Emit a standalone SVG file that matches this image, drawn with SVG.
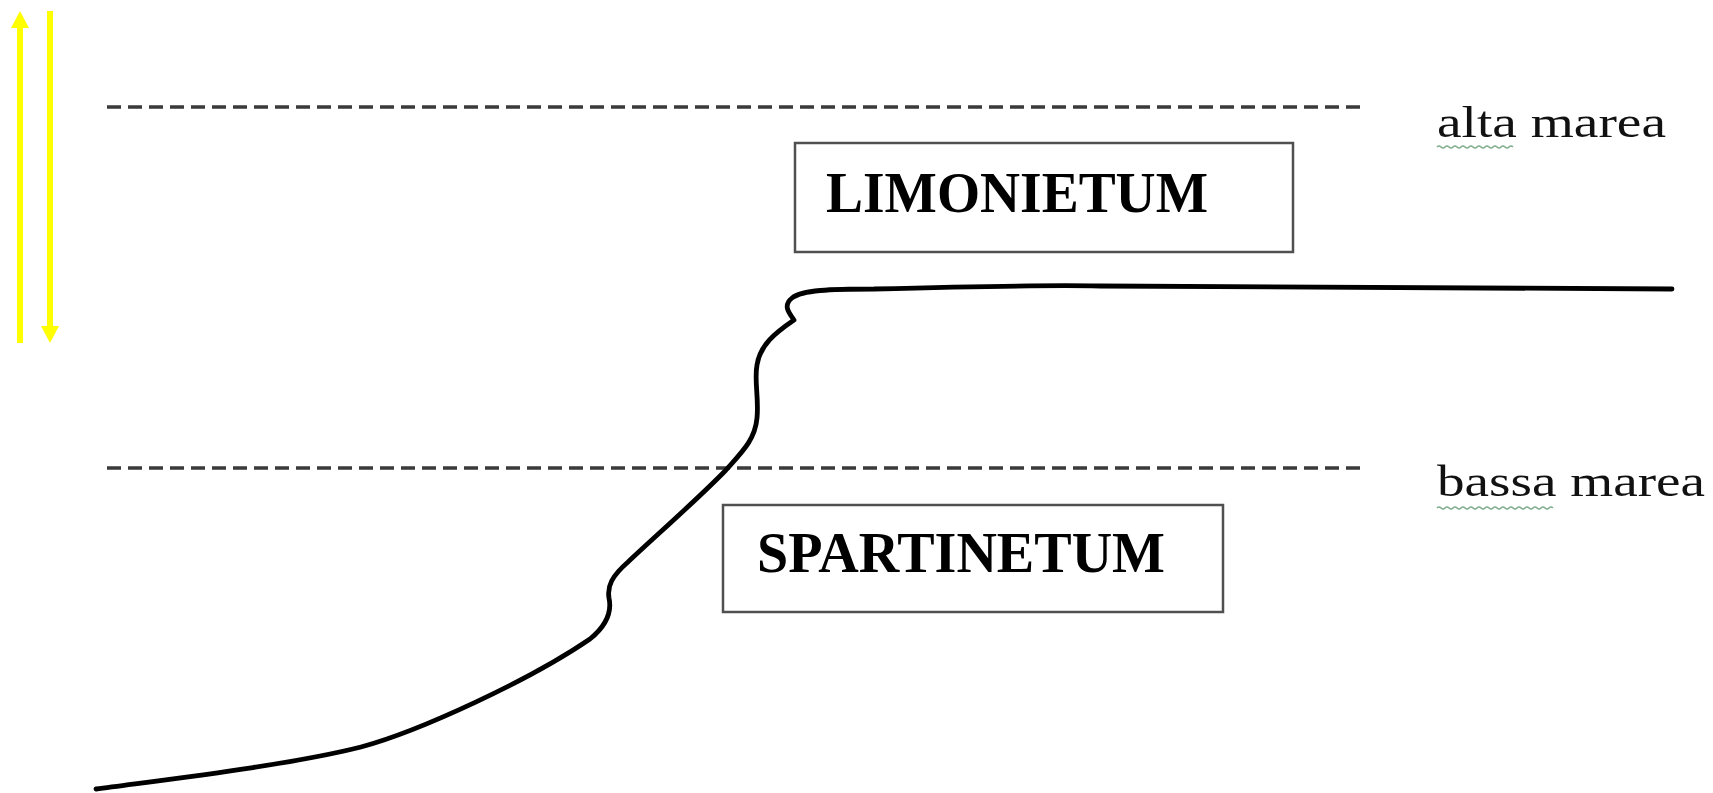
<svg xmlns="http://www.w3.org/2000/svg" width="1713" height="793" viewBox="0 0 1713 793">
  <style>
    .tide { stroke: #3a3a3a; stroke-width: 3.5; stroke-dasharray: 14 7; fill: none; }
    .box { fill: #ffffff; stroke: #505050; stroke-width: 2.5; }
    .zone { font-family: "Liberation Serif", "Times New Roman", serif; font-weight: bold; fill: #000; }
    .lbl { font-family: "Liberation Serif", "Times New Roman", serif; fill: #111; }
    .arrow { stroke: #ffff00; stroke-width: 6; fill: none; }
    .squig { stroke: #7fae8a; stroke-width: 1.6; fill: none; }
    .profile { stroke: #000; stroke-width: 4.8; fill: none; stroke-linecap: round; stroke-linejoin: round; }
  </style>
  <defs>
    <marker id="yhead" markerUnits="userSpaceOnUse" markerWidth="18" markerHeight="18" refX="0" refY="9" orient="auto">
      <path d="M0,0 L17,9 L0,18 Z" fill="#ffff00"/>
    </marker>
  </defs>
  <rect width="1713" height="793" fill="#ffffff"/>

  <g id="tide-lines">
    <line class="tide" x1="107" y1="107" x2="1363" y2="107"/>
    <line class="tide" x1="107" y1="468" x2="1363" y2="468"/>
  </g>

  <g id="profile">
    <path class="profile" d="M96,789 C170,779 290,765 361,747 C420,731 530,680 590,639 C606,626 612,612 609,598 C607,586 612,576 628,562 C660,532 700,497 726,470 C742,452 755,440 757,418 C759,398 754,380 757,365 C760,345 775,333 794,320 C790,314 782,306 792,298 C802,290 830,289 874,289 C950,287 1050,285 1100,286 L1672,289"/>
  </g>

  <g id="node-limonietum">
    <rect class="box" x="795" y="143" width="498" height="109"/>
    <text class="zone" x="826" y="212" font-size="57" textLength="382" lengthAdjust="spacingAndGlyphs">LIMONIETUM</text>
  </g>

  <g id="node-spartinetum">
    <rect class="box" x="723" y="505" width="500" height="107"/>
    <text class="zone" x="757" y="572" font-size="56" textLength="408" lengthAdjust="spacingAndGlyphs">SPARTINETUM</text>
  </g>

  <g id="label-alta">
    <text class="lbl" x="1437" y="137" font-size="45" textLength="229" lengthAdjust="spacingAndGlyphs">alta marea</text>
    <path class="squig" d="M1437,147 q2,-2 4,0 t4,0 t4,0 t4,0 t4,0 t4,0 t4,0 t4,0 t4,0 t4,0 t4,0 t4,0 t4,0 t4,0 t4,0 t4,0 t4,0 t4,0 t4,0"/>
  </g>

  <g id="label-bassa">
    <text class="lbl" x="1437" y="496" font-size="45" textLength="268" lengthAdjust="spacingAndGlyphs">bassa marea</text>
    <path class="squig" d="M1437,508 q2,-2 4,0 t4,0 t4,0 t4,0 t4,0 t4,0 t4,0 t4,0 t4,0 t4,0 t4,0 t4,0 t4,0 t4,0 t4,0 t4,0 t4,0 t4,0 t4,0 t4,0 t4,0 t4,0 t4,0 t4,0 t4,0 t4,0 t4,0 t4,0 t4,0"/>
  </g>

  <g id="connectors">
    <line class="arrow" x1="20" y1="343" x2="20" y2="28" marker-end="url(#yhead)"/>
    <line class="arrow" x1="50" y1="11" x2="50" y2="326" marker-end="url(#yhead)"/>
  </g>
</svg>
